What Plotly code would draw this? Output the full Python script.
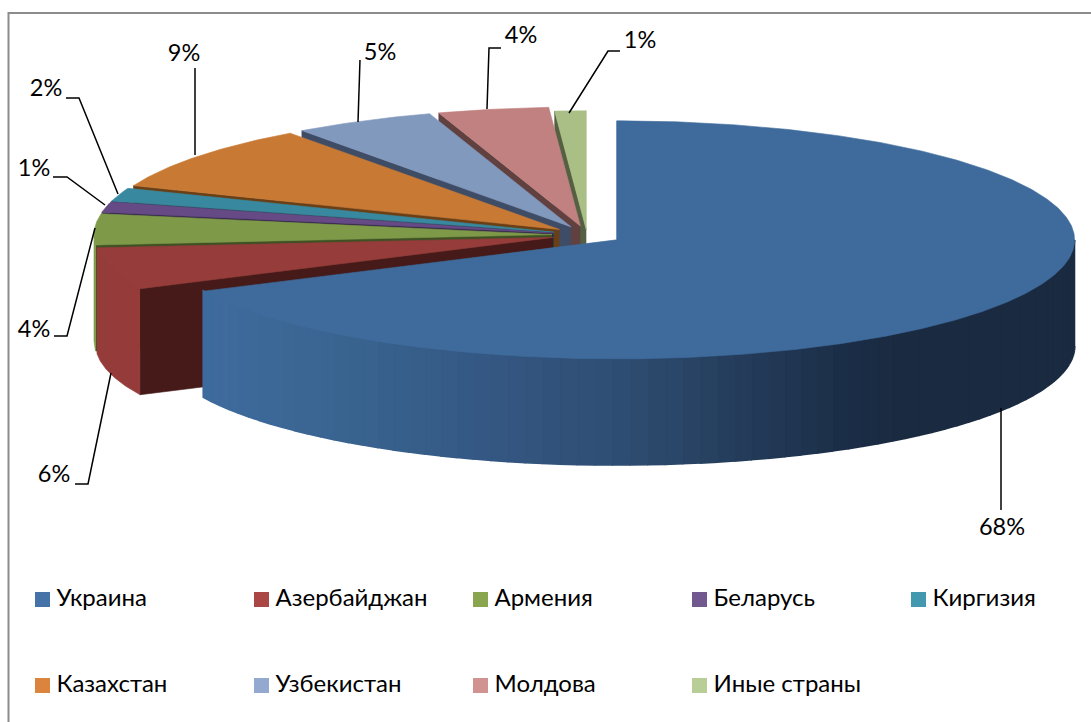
import numpy as np
import plotly.graph_objects as go

# ---- data ----
countries = ["Украина", "Азербайджан", "Армения", "Беларусь", "Киргизия",
             "Казахстан", "Узбекистан", "Молдова", "Иные страны"]
shares = [67.9, 5.7, 4.2, 1.4, 1.8, 9.0, 5.0, 3.9, 1.1]

# ---- styles ----
top_colors = ["#3F6B9C", "#963C3B", "#7E9A48", "#664A85", "#38899F",
              "#C87A35", "#8299BE", "#C08180", "#AABF85"]
cut_colors = ["#1A2B41", "#451A18", "#3F5124", "#33254A", "#1C4550",
              "#6B3F15", "#3F4C66", "#614040", "#556043"]
side_colors = ["#3F6B9C", "#953C3A", "#7C9A46", "#664A85", "#38899F",
               "#C87A35", "#8299BE", "#C08180", "#AABF85"]
legend_colors = ["#4573A7", "#AA4644", "#89A54E", "#71588F", "#4198AF",
                 "#DB843D", "#93A9CF", "#D19392", "#B9CD96"]
pulls = [35, 35, 35, 35, 35, 35, 35, 35, 20]
CX, CY, RX, RY, DEPTH = 587.0, 235.0, 458.0, 119.0, 106.0
FONT = "Lato, 'Open Sans', sans-serif"

grad_x = [204, 350, 500, 620, 725, 840, 900, 1075]
grad_rgb = [(63, 108, 158), (58, 100, 144), (52, 87, 130), (47, 78, 115),
            (38, 63, 94), (28, 47, 73), (26, 43, 65), (26, 43, 65)]

# slices run clockwise from 12 o'clock
edges = np.concatenate([[0], np.cumsum(shares)]) * 3.6

fig = go.Figure()


def poly(xs, ys, color, width=0.6):
    fig.add_trace(go.Scatter(x=list(xs), y=list(ys), mode="lines", fill="toself",
                             fillcolor=color, line=dict(color=color, width=width),
                             hoverinfo="skip", showlegend=False))


def rim(ax, ay, t):
    r = np.radians(t)
    return ax + RX * np.sin(r), ay - RY * np.cos(r)


def apex(i):
    mid = np.radians((edges[i] + edges[i + 1]) / 2)
    return CX + pulls[i] * np.sin(mid), CY - pulls[i] * RY / RX * np.cos(mid)


# painter's order: back slices first, Ukraine last
for i in range(len(shares) - 1, -1, -1):
    t0, t1 = edges[i], edges[i + 1]
    ax, ay = apex(i)
    if i > 0:
        ex, ey = rim(ax, ay, t0)
        poly([ax, ex, ex, ax], [ay, ey, ey + DEPTH, ay + DEPTH], cut_colors[i])
    a, b = max(t0, 90.0), min(t1, 270.0)
    if a < b:
        if i == 0:
            steps = np.linspace(a, b, 71)
            for s0, s1 in zip(steps[:-1], steps[1:]):
                x0, y0 = rim(ax, ay, s0)
                x1, y1 = rim(ax, ay, s1)
                xm = (x0 + x1) / 2
                c = [np.interp(xm, grad_x, [g[k] for g in grad_rgb]) for k in range(3)]
                col = "rgb(%d,%d,%d)" % tuple(c)
                poly([x0, x1, x1, x0], [y0, y1, y1 + DEPTH, y0 + DEPTH], col, width=2)
        else:
            ts = np.linspace(a, b, 40)
            xs, ys = rim(ax, ay, ts)
            poly(np.r_[xs, xs[::-1]], np.r_[ys, ys[::-1] + DEPTH], side_colors[i])
    ts = np.linspace(t0, t1, max(int(t1 - t0) * 2, 12))
    xs, ys = rim(ax, ay, ts)
    poly(np.r_[ax, xs, ax], np.r_[ay, ys, ay], top_colors[i])

# ---- leader lines and percent labels ----
leaders = [
    [(1001, 408), (1001, 510)],
    [(111, 373), (88, 484), (75, 484)],
    [(95, 228), (67, 336), (54, 336)],
    [(105, 205), (67, 177), (53, 177)],
    [(118, 194), (79, 98), (66, 98)],
    [(195, 155), (195, 68)],
    [(358, 122), (360, 60)],
    [(487, 109), (489, 48), (501, 48)],
    [(569, 113), (608, 51), (620, 51)],
]
label_pos = [(1002, 529), (54, 476), (34, 331), (34, 170), (46, 90),
             (184, 55), (380, 54), (521, 37), (640, 42)]
for pts in leaders:
    fig.add_trace(go.Scatter(x=[p[0] for p in pts], y=[p[1] for p in pts], mode="lines",
                             line=dict(color="#000000", width=1.5),
                             hoverinfo="skip", showlegend=False))
fig.add_trace(go.Scatter(x=[p[0] for p in label_pos], y=[p[1] for p in label_pos],
                         mode="text", text=["%d%%" % round(v) for v in shares],
                         textposition="middle center",
                         textfont=dict(family=FONT, size=23.5, color="#000000"),
                         hoverinfo="skip", showlegend=False))

# ---- legend ----
col_x = [42.5, 261.5, 480.5, 699.5, 918.5]
row_y = [599.5, 685.5]
lx = [col_x[i % 5] for i in range(len(countries))]
ly = [row_y[i // 5] for i in range(len(countries))]
fig.add_trace(go.Scatter(x=lx, y=ly, mode="markers",
                         marker=dict(symbol="square", size=15, color=legend_colors,
                                     line=dict(width=0)),
                         hoverinfo="skip", showlegend=False))
fig.add_trace(go.Scatter(x=[v + 14 for v in lx], y=ly, mode="text", text=countries,
                         textposition="middle right",
                         textfont=dict(family=FONT, size=24, color="#000000"),
                         hoverinfo="skip", showlegend=False))

# ---- chart frame (top and left edges only are in view) ----
fig.add_trace(go.Scatter(x=[8.5, 8.5, 1091], y=[722, 13, 13], mode="lines",
                         line=dict(color="#8C8C8C", width=2),
                         hoverinfo="skip", showlegend=False))

fig.update_layout(width=1091, height=722, margin=dict(l=0, r=0, t=0, b=0),
                  paper_bgcolor="#FFFFFF", plot_bgcolor="#FFFFFF", showlegend=False,
                  xaxis=dict(range=[0, 1091], visible=False, fixedrange=True),
                  yaxis=dict(range=[722, 0], visible=False, fixedrange=True))
fig.write_html("out.html", config={"displayModeBar": False},
               post_script="document.body.style.margin='0';document.body.style.overflow='hidden';")
